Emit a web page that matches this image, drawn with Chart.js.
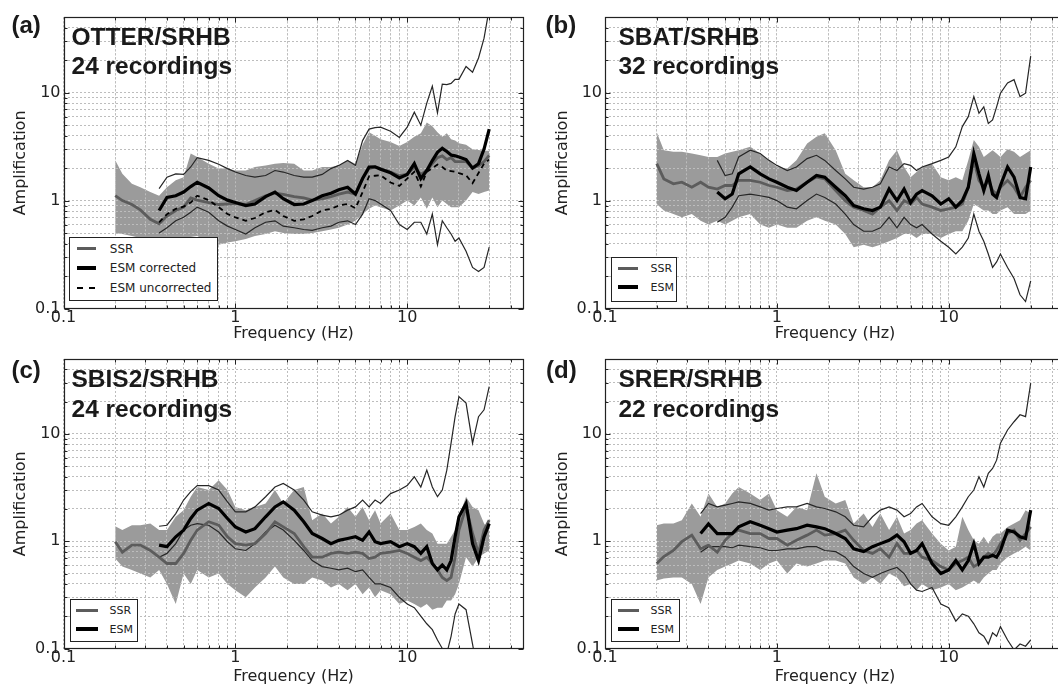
<!DOCTYPE html>
<html><head><meta charset="utf-8">
<script src="https://cdn.jsdelivr.net/npm/chart.js@4.4.1/dist/chart.umd.min.js"></script>
<style>
html,body{margin:0;padding:0;background:#fff;}
body{width:1058px;height:688px;overflow:hidden;position:relative;font-family:'DejaVu Sans',sans-serif;}
canvas{position:absolute;}
.lbl{position:absolute;font-family:'Liberation Sans',Arial,sans-serif;font-weight:bold;color:#1a1a1a;line-height:1;white-space:nowrap;z-index:2;}
.legend{position:absolute;border:1px solid #222;background:#fff;z-index:2;box-sizing:border-box;}
.legend .smp{position:absolute;}
.legend .txt{position:absolute;font-family:'DejaVu Sans',sans-serif;color:#222;line-height:1;white-space:nowrap;}
</style></head><body>
<script>
// ---------------- DATA ----------------
const freqHz = [0.2,0.22,0.25,0.28,0.32,0.36,0.4,0.45,0.5,0.55,0.6,0.7,0.8,0.9,1.0,1.15,1.3,1.5,1.7,1.9,2.2,2.5,2.8,3.2,3.6,4.0,4.5,5.0,5.5,6.0,6.5,7.0,8.0,9.0,10,11,12,13,14,15,16,17,18,19,20,22,24,26,28,30];
const N = null;

// (a) OTTER/SRHB
const otterSSR   = [1.11,1.0,0.92,0.82,0.67,0.61,0.72,0.81,0.87,1.06,1.01,0.96,0.92,0.93,0.94,0.92,1.0,1.11,1.17,1.14,1.09,1.06,1.01,1.04,1.09,1.15,1.2,1.15,1.6,1.98,2.05,1.98,1.84,1.7,1.75,2.05,1.75,1.9,2.2,2.5,2.6,2.4,2.5,2.3,2.3,2.3,2.0,2.1,2.3,2.63];
const otterBandHi= [2.36,1.77,1.43,1.33,1.2,1.11,1.33,1.54,1.65,2.73,2.54,2.2,1.98,1.98,1.9,1.9,2.05,2.12,2.2,2.23,2.2,1.9,1.9,2.05,2.05,2.12,2.36,2.2,3.3,4.3,4.0,3.7,3.5,3.2,3.5,3.9,4.2,5.3,4.9,4.3,3.9,4.2,3.7,3.6,3.4,3.3,3.0,2.95,2.9,2.9];
const otterBandLo= [0.5,0.49,0.47,0.45,0.42,0.39,0.42,0.44,0.46,0.46,0.47,0.41,0.39,0.41,0.42,0.44,0.47,0.49,0.52,0.5,0.49,0.49,0.5,0.52,0.54,0.56,0.6,0.65,0.75,0.84,0.9,0.87,0.81,0.9,1.0,0.9,1.07,0.84,1.07,0.87,1.0,0.93,0.87,0.87,0.87,1.0,1.2,1.15,1.2,1.24];
const otterESM   = [N,N,N,N,N,0.81,1.07,1.11,1.2,1.35,1.48,1.31,1.11,1.01,0.96,0.9,0.93,1.09,1.2,1.04,0.92,0.93,1.0,1.11,1.17,1.26,1.33,1.15,1.6,2.05,2.06,1.95,1.81,1.62,1.75,2.2,1.6,1.9,2.35,2.8,3.05,2.85,2.65,2.6,2.54,2.4,2.0,2.2,3.0,4.6];
const otterESMunc= [N,N,N,N,N,0.63,0.75,0.84,0.88,0.96,1.11,1.01,0.87,0.75,0.7,0.65,0.69,0.78,0.82,0.72,0.65,0.67,0.72,0.81,0.84,0.9,0.93,0.85,1.2,1.68,1.7,1.72,1.47,1.37,1.6,1.85,1.35,1.85,2.0,2.16,2.05,1.9,1.88,1.85,1.8,1.72,1.45,1.8,2.2,2.4];
const otterESMhi = [N,N,N,N,N,1.29,1.65,1.77,1.75,2.05,2.5,2.36,2.17,1.98,1.84,1.71,1.65,1.71,1.9,1.84,1.71,1.65,1.65,1.75,1.98,2.12,2.36,2.12,3.6,4.6,4.75,4.8,4.4,3.85,4.8,6.6,5.0,8.0,11.5,6.5,12.0,11.9,12.2,13.3,13.3,17.5,15.5,21,32,60];
const otterESMlo = [N,N,N,N,N,0.5,0.56,0.65,0.7,0.78,0.87,0.78,0.65,0.58,0.54,0.49,0.56,0.63,0.65,0.58,0.56,0.54,0.53,0.56,0.58,0.63,0.65,0.6,0.75,1.04,1.0,0.93,0.81,0.6,0.54,0.63,0.63,0.49,0.75,0.39,0.65,0.56,0.49,0.42,0.45,0.34,0.24,0.22,0.24,0.37];

// (b) SBAT/SRHB
const sbatSSR    = [2.2,1.59,1.43,1.48,1.33,1.48,1.33,1.28,1.38,1.38,1.54,1.54,1.48,1.38,1.33,1.24,1.28,1.48,1.65,1.59,1.24,1.0,0.87,0.81,0.75,0.87,1.0,0.81,1.0,0.93,1.07,0.93,0.87,0.81,0.84,0.87,0.93,1.33,2.36,1.54,1.33,1.54,1.24,1.15,1.33,1.54,1.33,1.07,1.33,1.54];
const sbatBandHi = [4.3,2.93,2.83,2.83,2.73,2.63,2.54,2.54,2.73,2.83,2.93,3.15,2.73,2.36,2.05,1.98,2.36,3.38,3.9,4.2,2.93,1.77,1.54,1.33,1.33,1.54,2.36,2.93,2.05,1.65,1.84,2.05,2.2,1.65,1.54,1.65,1.54,2.36,3.64,3.15,2.54,2.73,2.93,2.73,2.54,3.0,2.83,2.54,2.73,2.93];
const sbatBandLo = [0.93,0.81,0.75,0.7,0.75,0.65,0.6,0.65,0.6,0.65,0.7,0.75,0.6,0.56,0.6,0.56,0.56,0.65,0.7,0.65,0.6,0.49,0.37,0.39,0.37,0.39,0.42,0.45,0.49,0.49,0.45,0.49,0.49,0.45,0.49,0.52,0.52,0.65,0.93,0.87,0.81,0.81,0.75,0.75,0.81,0.87,0.75,0.75,0.75,0.81];
const sbatESM    = [N,N,N,N,N,N,N,1.2,1.04,1.15,1.77,2.05,1.77,1.59,1.48,1.33,1.24,1.48,1.71,1.65,1.33,1.11,0.9,0.84,0.81,0.87,1.28,1.0,1.28,0.96,1.15,1.24,1.11,0.93,1.04,0.87,1.0,1.33,2.73,1.77,1.24,1.71,1.15,1.07,1.38,2.05,1.65,1.07,1.04,2.05];
const sbatESMhi  = [N,N,N,N,N,N,N,2.36,1.71,1.77,2.54,2.93,2.73,2.36,2.12,1.9,2.05,2.45,2.63,2.36,1.9,1.59,1.33,1.28,1.33,1.43,2.05,1.9,2.2,2.12,1.9,2.05,2.2,2.36,2.54,3.15,4.85,6.0,9.2,6.45,7.4,5.2,5.6,7.4,9.9,12.3,13.2,9.2,9.9,21.8];
const sbatESMlo  = [N,N,N,N,N,N,N,0.63,0.7,0.87,1.11,1.15,1.11,1.07,1.0,0.87,0.84,1.0,1.15,1.07,0.93,0.75,0.6,0.52,0.52,0.56,0.7,0.56,0.7,0.6,0.56,0.6,0.49,0.42,0.37,0.32,0.37,0.45,0.75,0.52,0.42,0.32,0.24,0.27,0.32,0.24,0.19,0.134,0.116,0.18];

// (c) SBIS2/SRHB
const sbisSSR    = [0.99,0.79,0.92,0.92,0.82,0.71,0.62,0.62,0.77,1.02,1.27,1.52,1.41,1.1,0.95,0.92,0.95,1.18,1.52,1.36,1.18,0.89,0.71,0.71,0.77,0.79,0.77,0.79,0.77,0.69,0.71,0.77,0.79,0.82,0.77,0.71,0.66,0.71,0.62,0.54,0.46,0.43,0.46,0.71,1.27,2.09,1.18,0.77,1.27,1.57];
const sbisBandHi = [1.38,1.27,1.41,1.41,1.46,1.27,1.27,1.69,1.95,2.6,3.2,3.0,3.7,3.0,2.09,1.95,2.09,2.25,3.0,2.25,3.0,3.2,1.57,1.81,1.46,1.69,2.09,1.69,2.09,1.57,1.95,1.46,1.81,1.27,1.27,1.36,1.46,1.27,1.18,0.95,0.95,0.95,1.1,1.27,1.69,2.6,2.09,1.95,1.46,1.27];
const sbisBandLo = [0.69,0.58,0.54,0.5,0.46,0.54,0.4,0.26,0.5,0.4,0.54,0.46,0.5,0.4,0.35,0.3,0.37,0.46,0.58,0.46,0.4,0.4,0.46,0.43,0.37,0.4,0.35,0.4,0.32,0.37,0.3,0.35,0.32,0.26,0.28,0.26,0.24,0.26,0.23,0.24,0.24,0.28,0.28,0.32,0.4,0.71,0.58,0.71,0.77,0.82];
const sbisESM    = [N,N,N,N,N,0.92,0.89,1.1,1.27,1.63,1.95,2.25,2.02,1.63,1.36,1.22,1.31,1.69,2.09,2.33,1.95,1.52,1.18,1.06,0.95,1.02,1.06,1.1,1.02,1.22,0.99,0.95,0.99,0.89,0.95,0.89,0.77,0.89,0.62,0.54,0.6,0.54,0.66,1.1,1.69,2.25,0.95,0.66,1.1,1.46];
const sbisESMhi  = [N,N,N,N,N,1.38,1.41,1.81,2.42,2.9,3.3,3.3,3.0,2.33,1.88,1.88,2.09,2.6,3.2,3.46,3.0,2.42,1.88,1.75,1.69,1.75,1.95,2.09,2.42,2.09,2.42,2.25,2.78,3.0,3.3,3.99,3.2,4.6,3.2,2.6,3.0,4.6,8.2,14.5,22.3,19.4,8.2,14.5,16.8,27.7];
const sbisESMlo  = [N,N,N,N,N,0.71,0.77,0.95,1.27,1.41,1.46,1.41,1.22,0.99,0.85,0.82,0.95,1.22,1.41,1.27,1.02,0.82,0.66,0.58,0.56,0.54,0.56,0.52,0.54,0.46,0.4,0.4,0.37,0.3,0.26,0.24,0.2,0.17,0.15,0.12,0.1,0.09,0.13,0.21,0.26,0.23,0.11,0.054,0.04,0.054];

// (d) SRER/SRHB
const srerSSR    = [0.62,0.72,0.82,0.99,1.14,0.85,0.92,0.79,1.02,1.18,1.27,1.18,1.18,1.06,1.06,0.92,1.02,1.14,1.27,1.14,1.18,1.27,1.02,0.82,0.77,0.85,0.71,0.95,0.77,0.77,0.82,0.71,0.66,0.58,0.54,0.62,0.66,0.71,0.58,0.62,0.71,0.77,0.74,0.82,0.95,1.18,1.27,1.02,1.18,1.36];
const srerBandHi = [1.41,1.46,1.46,1.57,2.25,1.69,2.79,2.09,2.25,2.79,3.2,2.79,2.42,2.79,1.95,1.69,2.09,1.95,4.3,2.6,2.25,2.42,1.46,1.81,1.36,1.81,1.27,1.69,1.18,1.27,1.46,1.57,1.18,0.95,0.82,0.89,1.69,1.27,1.02,0.95,1.1,0.95,1.1,1.18,1.18,1.36,1.46,1.57,1.95,1.81];
const srerBandLo = [0.43,0.45,0.46,0.46,0.4,0.26,0.46,0.54,0.58,0.62,0.66,0.62,0.54,0.62,0.66,0.5,0.62,0.58,0.62,0.66,0.66,0.62,0.46,0.4,0.46,0.4,0.5,0.46,0.38,0.4,0.35,0.4,0.35,0.37,0.4,0.35,0.37,0.4,0.43,0.4,0.46,0.5,0.54,0.54,0.62,0.71,0.77,0.82,0.89,0.82];
const srerESM    = [N,N,N,N,N,1.18,1.45,1.18,1.18,1.18,1.36,1.52,1.41,1.31,1.22,1.27,1.31,1.41,1.36,1.31,1.18,1.06,0.85,0.8,0.89,0.95,1.02,1.14,0.99,0.77,0.82,0.95,0.62,0.5,0.54,0.66,0.54,0.66,0.95,0.62,0.71,0.71,0.74,0.71,0.82,1.27,1.22,1.1,1.06,1.95];
const srerESMhi  = [N,N,N,N,N,1.81,2.25,2.09,2.17,2.25,2.33,2.25,2.09,1.95,2.02,2.09,2.09,2.25,2.09,2.02,1.88,1.69,1.41,1.36,1.69,1.95,2.09,1.95,1.69,1.81,2.09,2.25,1.69,1.46,1.41,1.69,2.09,2.6,3.0,3.99,3.2,4.3,4.77,5.7,8.2,10.9,13.0,15.1,14.5,29.8];
const srerESMlo  = [N,N,N,N,N,0.79,0.89,0.89,0.89,0.87,0.92,0.89,0.87,0.82,0.82,0.85,0.85,0.89,0.89,0.82,0.8,0.71,0.58,0.5,0.46,0.5,0.54,0.57,0.5,0.4,0.35,0.34,0.37,0.26,0.24,0.18,0.21,0.2,0.17,0.14,0.13,0.11,0.14,0.13,0.16,0.12,0.097,0.11,0.105,0.12];

// tick labels & texts
const majorTicks = [0.1, 1, 10];
const majorTickText = ['0.1', '1', '10'];
const panelLetters = ['(a)', '(b)', '(c)', '(d)'];
const stationNames = ['OTTER/SRHB', 'SBAT/SRHB', 'SBIS2/SRHB', 'SRER/SRHB'];
const recordingCounts = ['24 recordings', '32 recordings', '24 recordings', '22 recordings'];

// ---------------- STYLE / LAYOUT ----------------
const BAND = '#9b9b9b', SSRC = '#5c5c5c', ESMC = '#000', THIN = '#262626', GRID = '#bdbdbd';
const PW = 460, AXW = 63, XMAX = 47.5, YMAX = 50;
const gridVals = [];
[0.1, 1, 10].forEach(d => { for (let m = 1; m <= 9; m++) { const v = +(m * d).toPrecision(6); if (v <= XMAX + 3) gridVals.push(v); } });
function isMajor(v){ return majorTicks.some(m => Math.abs(m - v) < 1e-9); }
function labelFor(v){ const i = majorTicks.findIndex(m => Math.abs(m - v) < 1e-9); return i >= 0 ? majorTickText[i] : ''; }

const panels = [
  {cx:0,   cy:0,   cw:529, ch:344, pl:63.5, pt:17.3, ph:291.2, tpb:0.5, lab:[11.5,13.3], tit:[71.5,25,54],
   ssr:otterSSR, hi:otterBandHi, lo:otterBandLo, esm:otterESM, unc:otterESMunc, eh:otterESMhi, el:otterESMlo,
   leg:{l:69.3,t:237.3,w:148.3,h:63.5,fs:12,sx:8,sw:19,tx:40.5,rows:[['ssr','SSR',11],['esm','ESM corrected',30.4],['dash','ESM uncorrected',50.5]]}},
  {cx:529, cy:0,   cw:545, ch:344, pl:76, pt:17.3, ph:291.2, tpb:0.5, lab:[545.5,13.3], tit:[618.4,25,54],
   ssr:sbatSSR, hi:sbatBandHi, lo:sbatBandLo, esm:sbatESM, eh:sbatESMhi, el:sbatESMlo,
   leg:{l:611,t:256.7,w:66.4,h:45,fs:11,sx:7,sw:20,tx:39.5,rows:[['ssr','SSR',11.6],['esm','ESM',30.6]]}},
  {cx:0,   cy:344, cw:529, ch:344, pl:63.5, pt:15, ph:289.5, tpb:1.2, lab:[11.5,358.3], tit:[71.5,367.3,396.5],
   ssr:sbisSSR, hi:sbisBandHi, lo:sbisBandLo, esm:sbisESM, eh:sbisESMhi, el:sbisESMlo,
   leg:{l:69.8,t:599,w:68.5,h:43.3,fs:11,sx:6,sw:22,tx:39.8,rows:[['ssr','SSR',11.7],['esm','ESM',30]]}},
  {cx:529, cy:344, cw:545, ch:344, pl:76, pt:15, ph:289.5, tpb:1.2, lab:[546,358.3], tit:[618.4,367.3,396.5],
   ssr:srerSSR, hi:srerBandHi, lo:srerBandLo, esm:srerESM, eh:srerESMhi, el:srerESMlo,
   leg:{l:611,t:599,w:68.8,h:43.3,fs:11,sx:6.7,sw:21,tx:39.5,rows:[['ssr','SSR',11.7],['esm','ESM',30]]}}
];

Chart.defaults.font.family = "'DejaVu Sans', sans-serif";
Chart.defaults.color = '#222';

// frame + inward tick marks
const framePlugin = {
  id: 'frame',
  afterDatasetsDraw(chart) {
    const {ctx, chartArea: a, scales: {x, y}} = chart;
    ctx.save();
    ctx.strokeStyle = '#222'; ctx.lineWidth = 1.2;
    const L = Math.round(a.left) + 0.5, T = Math.round(a.top) + 0.5, R = Math.round(a.right) - 0.5, B = Math.round(a.bottom) - 0.5;
    ctx.strokeRect(L, T, R - L, B - T);
    ctx.lineWidth = 1;
    ctx.beginPath();
    gridVals.forEach(v => {
      const len = isMajor(v) ? 5 : 3;
      if (v <= XMAX) {
        const px = Math.round(x.getPixelForValue(v)) + 0.5;
        ctx.moveTo(px, B); ctx.lineTo(px, B - len);
        ctx.moveTo(px, T); ctx.lineTo(px, T + len);
      }
      if (v <= YMAX) {
        const py = Math.round(y.getPixelForValue(v)) + 0.5;
        ctx.moveTo(L, py); ctx.lineTo(L + len, py);
        ctx.moveTo(R, py); ctx.lineTo(R - len, py);
      }
    });
    ctx.stroke();
    ctx.restore();
  }
};
// redraw the dotted grid on top of the shaded band (but beneath the curves)
const gridOverBand = {
  id: 'gridOverBand',
  afterDatasetDraw(chart, args) {
    if (args.index !== 0) return;
    const {ctx, chartArea: a} = chart;
    ctx.save();
    ctx.beginPath(); ctx.rect(a.left, a.top, a.width, a.height); ctx.clip();
    chart.scales.x.drawGrid(a); chart.scales.y.drawGrid(a);
    ctx.restore();
  }
};

function addDiv(cls, text, css){
  const d = document.createElement('div'); d.className = cls; if (text) d.textContent = text;
  Object.assign(d.style, css); document.body.appendChild(d); return d;
}

panels.forEach((p, k) => {
  const cv = document.createElement('canvas');
  cv.width = p.cw; cv.height = p.ch;
  Object.assign(cv.style, {left: p.cx + 'px', top: p.cy + 'px', width: p.cw + 'px', height: p.ch + 'px'});
  document.body.appendChild(cv);
  const pts = arr => freqHz.map((f, i) => ({x: f, y: arr[i]}));
  const line = (arr, color, w, order, extra) => Object.assign({data: pts(arr), borderColor: color, borderWidth: w, pointRadius: 0, fill: false, tension: 0, order}, extra || {});
  const ds = [
    line(p.hi, 'rgba(0,0,0,0)', 1, 9),
    line(p.lo, 'rgba(0,0,0,0)', 1, 9, {fill: '-1', backgroundColor: BAND}),
    line(p.eh, THIN, 1.2, 5),
    line(p.el, THIN, 1.2, 5),
    line(p.ssr, SSRC, 2.8, 3),
  ];
  if (p.unc) ds.push(line(p.unc, ESMC, 1.8, 2, {borderDash: [5, 4]}));
  ds.push(line(p.esm, ESMC, 3.2, 1));
  const xH = p.ch - (p.pt + p.ph);
  const gridCfg = {color: GRID, drawTicks: false, lineWidth: 1};
  new Chart(cv, {
    type: 'line',
    data: {datasets: ds},
    options: {
      responsive: false, animation: false, devicePixelRatio: 1, events: [],
      layout: {padding: {left: p.pl - AXW, top: p.pt, right: p.cw - p.pl - PW, bottom: 0}},
      plugins: {legend: {display: false}, tooltip: {enabled: false}},
      scales: {
        x: {type: 'logarithmic', min: 0.1, max: XMAX,
          afterBuildTicks: s => { s.ticks = gridVals.filter(v => v <= XMAX).map(v => ({value: v})); },
          afterFit: s => { s.height = xH; },
          ticks: {callback: v => labelFor(v), autoSkip: false, maxRotation: 0, padding: 0, font: {size: 16}, color: '#222'},
          grid: gridCfg,
          border: {display: false, dash: [2, 2]},
          title: {display: true, text: 'Frequency (Hz)', font: {size: 16}, color: '#222', padding: {top: 0, bottom: p.tpb}}
        },
        y: {type: 'logarithmic', min: 0.1, max: YMAX,
          afterBuildTicks: s => { s.ticks = gridVals.filter(v => v <= YMAX).map(v => ({value: v})); },
          afterFit: s => { s.width = AXW; },
          ticks: {callback: v => labelFor(v), autoSkip: false, padding: 3, font: {size: 16}, color: '#222'},
          grid: gridCfg,
          border: {display: false, dash: [2, 2]},
          title: {display: true, text: 'Amplification', font: {size: 16}, color: '#222', padding: {top: 11, bottom: 0}}
        }
      }
    },
    plugins: [gridOverBand, framePlugin]
  });

  // panel letter & station titles
  addDiv('lbl', panelLetters[k], {left: p.lab[0] + 'px', top: p.lab[1] + 'px', fontSize: '24px'});
  addDiv('lbl', stationNames[k], {left: p.tit[0] + 'px', top: p.tit[1] + 'px', fontSize: '24.5px'});
  addDiv('lbl', recordingCounts[k], {left: p.tit[0] + 'px', top: p.tit[2] + 'px', fontSize: '24.5px'});

  // legend box
  const g = p.leg;
  const box = addDiv('legend', '', {left: g.l + 'px', top: g.t + 'px', width: g.w + 'px', height: g.h + 'px'});
  g.rows.forEach(([type, text, ry]) => {
    const s = document.createElement('div'); s.className = 'smp';
    const th = type === 'esm' ? 4 : (type === 'ssr' ? 3 : 2);
    Object.assign(s.style, {left: (g.sx - 1) + 'px', width: g.sw + 'px', top: (ry - 1 - th / 2) + 'px', height: th + 'px',
      background: type === 'esm' ? '#000' : (type === 'ssr' ? SSRC : 'repeating-linear-gradient(90deg,#000 0 6px,transparent 6px 12px)')});
    box.appendChild(s);
    const t = document.createElement('div'); t.className = 'txt'; t.textContent = text;
    Object.assign(t.style, {left: (g.tx - 1) + 'px', top: (ry - 1 - 0.48 * g.fs) + 'px', fontSize: g.fs + 'px'});
    box.appendChild(t);
  });
});
</script>
</body></html>
